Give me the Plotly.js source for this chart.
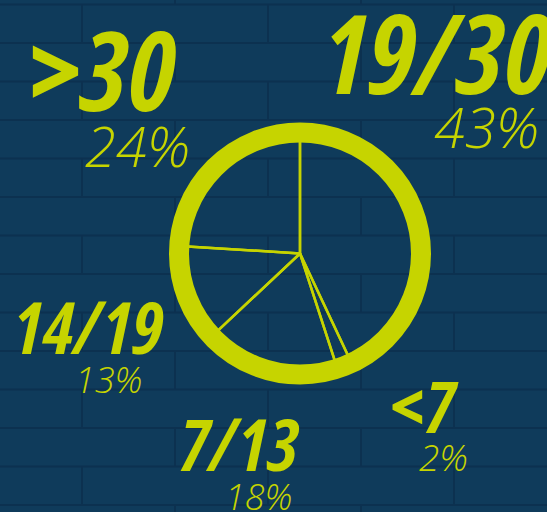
<!DOCTYPE html>
<html>
<head>
<meta charset="utf-8">
<script src="https://cdn.plot.ly/plotly-3.0.1.min.js"></script>
<style>
  html, body { margin: 0; padding: 0; background: #0f3b5b; }
  #chart { width: 547px; height: 512px; }
  #chart text.annotation-text { font-stretch: condensed; }
  #chart text.annotation-text[style*="Roboto"] { font-stretch: normal; }
</style>
</head>
<body>
<div id="chart"></div>
<script>
// ---- data ----
const categories = ["19/30", "<7", "7/13", "14/19", ">30"];
const shares = [43, 2, 18, 13, 24];

// ---- styling / layout helpers ----
const W = 547, H = 512;
const lime = "#c6d400";
const bg = "#0f3b5b";
const px = x => x / W;
const py = y => 1 - y / H;

// pie geometry (pixels)
const cx = 300, cy = 253.5, r = 121;

// label placement (pixel centres) — big label then percentage
const labelPos = {
  "19/30": {x: 436, y: 51,  size: 110, px: 486, py: 126, psize: 56},
  "<7":    {x: 424, y: 405, size: 72,  px: 443, py: 456, psize: 37},
  "7/13":  {x: 238, y: 443, size: 72,  px: 259, py: 496, psize: 36},
  "14/19": {x: 87,  y: 326, size: 72,  px: 109, py: 379, psize: 36},
  ">30":   {x: 102, y: 68,  size: 110, px: 137, py: 145, psize: 56}
};

const annotations = [];
categories.forEach((c, i) => {
  const p = labelPos[c];
  annotations.push({
    xref: "paper", yref: "paper", x: px(p.x), y: py(p.y),
    xanchor: "center", yanchor: "middle", showarrow: false,
    text: c,
    font: {family: "Open Sans, sans-serif", size: p.size, color: lime,
           weight: "bold", style: "italic"}
  });
  annotations.push({
    xref: "paper", yref: "paper", x: px(p.px), y: py(p.py),
    xanchor: "center", yanchor: "middle", showarrow: false,
    text: shares[i] + "%",
    font: {family: "Open Sans, Roboto, sans-serif", size: p.psize, color: lime,
           weight: 300, style: "italic"}
  });
});

// brick wall background
const shapes = [];
const rowH = 38.5, brickW = 186, lineCol = "#0c3150";
for (let k = -1; k < 14; k++) {
  const y0 = 4.5 + rowH * k, y1 = y0 + rowH;
  shapes.push({type: "line", layer: "below", xref: "paper", yref: "paper",
    x0: 0, x1: 1, y0: py(y0), y1: py(y0), line: {color: lineCol, width: 2}});
  const off = (Math.abs(k) % 2 === 0) ? 82 : 175;
  for (let x = off - brickW; x < W; x += brickW) {
    if (x < 0) continue;
    shapes.push({type: "line", layer: "below", xref: "paper", yref: "paper",
      x0: px(x), x1: px(x), y0: py(y0), y1: py(y1), line: {color: lineCol, width: 2}});
  }
}
// thick outer ring of the pie
shapes.push({type: "circle", layer: "above", xref: "paper", yref: "paper",
  x0: px(cx - r), x1: px(cx + r), y0: py(cy + r), y1: py(cy - r),
  line: {color: lime, width: 20}, fillcolor: "rgba(0,0,0,0)"});

const trace = {
  type: "pie",
  labels: categories,
  values: shares,
  sort: false,
  direction: "clockwise",
  rotation: 0,
  textinfo: "none",
  hoverinfo: "skip",
  showlegend: false,
  marker: {colors: categories.map(() => "rgba(0,0,0,0)"), line: {color: lime, width: 2.5}},
  domain: {x: [px(cx - r), px(cx + r)], y: [py(cy + r), py(cy - r)]}
};

const layout = {
  width: W, height: H,
  margin: {l: 0, r: 0, t: 0, b: 0},
  paper_bgcolor: bg, plot_bgcolor: bg,
  showlegend: false,
  shapes: shapes,
  annotations: annotations
};

Plotly.newPlot("chart", [trace], layout, {displayModeBar: false, staticPlot: true});
</script>
</body>
</html>
